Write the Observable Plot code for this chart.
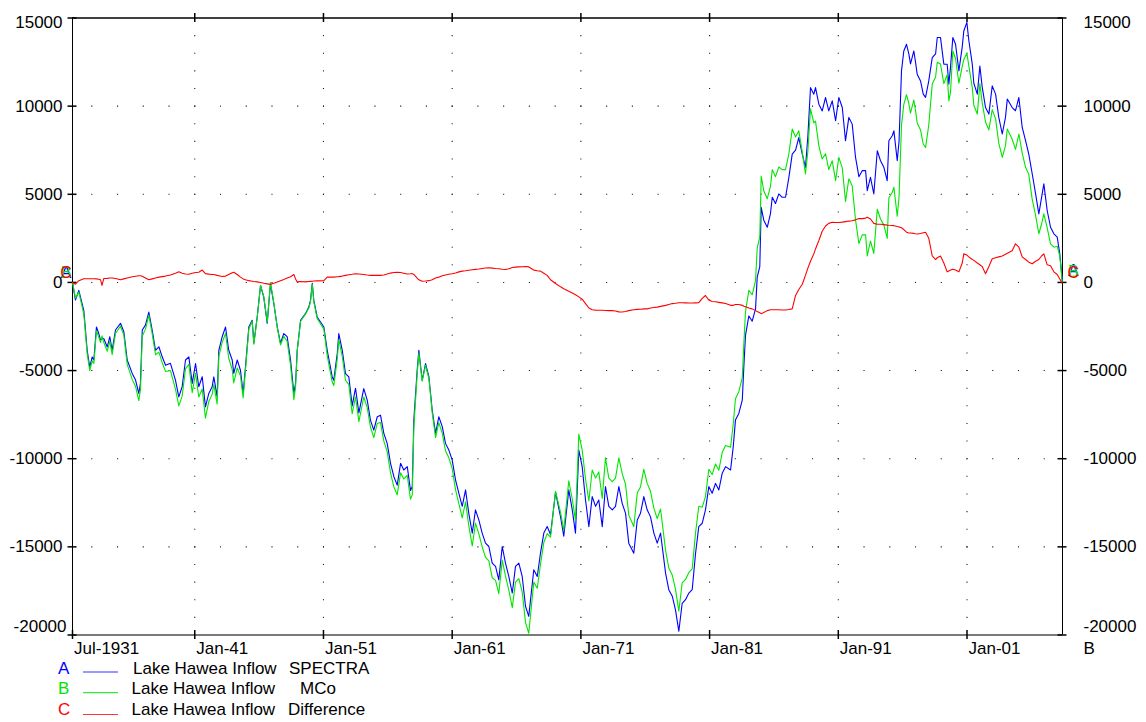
<!DOCTYPE html>
<html>
<head>
<meta charset="utf-8">
<script src="https://cdn.jsdelivr.net/npm/d3@7"></script>
<script src="https://cdn.jsdelivr.net/npm/@observablehq/plot@0.6"></script>
<style>
  body { margin: 0; background: #fff; }
  #wrap { position: relative; width: 1146px; height: 722px; background: #fff; }
</style>
</head>
<body>
<div id="wrap"></div>
<script>
// ---------- data ----------
const years = [
1931.50,1931.73,1931.99,1932.38,1932.64,1932.84,1933.03,1933.16,1933.36,1933.54,1933.68,1933.79,1933.93,1934.20,1934.40,1934.58,1934.84,1935.23,1935.49,1935.75,
1936.14,1936.40,1936.65,1936.78,1936.92,1937.17,1937.43,1937.69,1937.95,1938.21,1938.47,1938.73,1939.11,1939.50,1939.76,1940.02,1940.28,1940.54,1940.80,1941.06,
1941.31,1941.58,1941.83,1942.09,1942.35,1942.48,1942.74,1942.87,1943.13,1943.39,1943.64,1943.91,1944.03,1944.30,1944.55,1944.76,1944.94,1945.20,1945.46,1945.59,
1945.85,1946.11,1946.36,1946.63,1946.88,1947.14,1947.41,1947.66,1947.92,1948.18,1948.44,1948.70,1948.83,1948.96,1949.22,1949.60,1949.86,1949.99,1950.13,1950.25,
1950.51,1951.03,1951.29,1951.68,1951.80,1952.07,1952.19,1952.46,1952.71,1952.97,1953.23,1953.49,1953.75,1954.13,1954.40,1954.65,1954.91,1955.18,1955.43,1955.69,
1955.95,1956.21,1956.47,1956.73,1956.99,1957.24,1957.51,1957.76,1957.90,1958.02,1958.28,1958.41,1958.67,1958.93,1959.19,1959.45,1959.71,1959.96,1960.23,1960.48,
1960.74,1961.00,1961.26,1961.52,1961.78,1962.04,1962.29,1962.56,1962.81,1963.07,1963.33,1963.59,1963.85,1964.11,1964.37,1964.62,1964.89,1965.14,1965.40,1965.67,
1965.92,1966.18,1966.44,1966.70,1966.95,1967.34,1967.61,1967.86,1968.12,1968.38,1968.64,1969.03,1969.42,1969.67,1970.06,1970.33,1970.58,1970.84,1971.10,1971.36,
1971.62,1971.88,1972.14,1972.39,1972.66,1972.91,1973.17,1973.44,1973.69,1973.95,1974.21,1974.47,1974.72,1975.11,1975.38,1975.63,1975.89,1976.15,1976.41,1976.67,
1976.93,1977.19,1977.58,1977.83,1978.10,1978.35,1978.61,1978.87,1979.13,1979.39,1979.65,1979.91,1980.16,1980.43,1980.68,1980.94,1981.20,1981.46,1981.72,1981.98,
1982.24,1982.63,1982.84,1983.01,1983.27,1983.54,1983.66,1983.79,1984.05,1984.31,1984.57,1984.70,1984.90,1985.01,1985.21,1985.48,1985.73,1985.87,1986.12,1986.38,
1986.64,1986.90,1987.16,1987.42,1987.68,1987.93,1988.20,1988.45,1988.63,1988.84,1989.10,1989.23,1989.49,1989.75,1990.01,1990.26,1990.53,1990.79,1991.04,1991.31,
1991.56,1991.82,1992.08,1992.34,1992.60,1992.86,1993.12,1993.25,1993.50,1993.76,1994.03,1994.28,1994.54,1994.80,1994.93,1995.19,1995.32,1995.58,1995.72,1995.91,
1996.09,1996.30,1996.48,1996.61,1996.87,1997.00,1997.13,1997.39,1997.60,1997.78,1998.03,1998.30,1998.56,1998.69,1998.94,1999.20,1999.46,1999.59,1999.72,1999.90,
2000.11,2000.37,2000.63,2000.75,2000.99,2001.14,2001.41,2001.53,2001.80,2002.00,2002.18,2002.44,2002.70,2002.96,2003.22,2003.47,2003.74,2003.99,2004.13,2004.51,
2004.77,2005.03,2005.29,2005.55,2005.80,2006.07,2006.33,2006.58,2006.79,2006.97,2007.23,2007.49,2007.75,2008.01,2008.21,2008.40
];

const spectra = [
0,-1000,-450,-1600,-3850,-4800,-4230,-4400,-2530,-2900,-3270,-3200,-3180,-3660,-3080,-3850,-2700,-2320,-2800,-4400,
-5160,-5540,-6300,-5730,-2700,-2420,-1680,-2700,-3850,-3650,-4220,-4700,-4590,-5540,-6490,-5920,-4400,-4220,-5730,-4600,
-5920,-5350,-7060,-6300,-5920,-5360,-6490,-3850,-3080,-2530,-3850,-4400,-5160,-4400,-4980,-6300,-4790,-2530,-2150,-3440,
-1960,-170,-830,-2320,-75,-1190,-2530,-3440,-2900,-3080,-4400,-6300,-5730,-3850,-2150,-1770,-1400,-1020,-50,-1020,
-1960,-2530,-3850,-5360,-5550,-4040,-2900,-3850,-5170,-5360,-7000,-6000,-7400,-6020,-6680,-7810,-8380,-7620,-7530,-8560,
-9130,-10260,-11020,-11500,-10260,-10640,-10450,-11800,-11580,-7810,-4980,-3850,-5550,-4600,-5350,-7250,-8560,-7620,-8180,-9130,
-9510,-10070,-11200,-11960,-12700,-11770,-13100,-14220,-12900,-13470,-14220,-14790,-14980,-15920,-16110,-16870,-14980,-15920,-16680,-17620,
-16110,-15920,-16680,-18380,-18940,-16300,-16680,-15360,-14220,-13850,-14300,-11900,-13300,-14400,-11770,-12900,-14220,-9510,-10450,-12340,
-13850,-12150,-12700,-12340,-13850,-11580,-12700,-12900,-12700,-11580,-12530,-13100,-14790,-15360,-13470,-13100,-12150,-12900,-13300,-14220,
-14790,-14220,-16490,-17430,-17800,-18570,-19790,-18200,-18000,-17620,-17430,-15360,-13850,-13660,-12900,-11580,-11960,-11400,-11770,-10830,
-10450,-10640,-9300,-7810,-7430,-6680,-4790,-3000,-1900,-2200,-1500,300,900,4260,3530,3130,3910,4830,4480,5020,
4830,4830,5960,7280,7500,8220,7280,6530,8220,11050,10680,11050,10110,9730,10490,9730,10300,9170,10490,9920,
8040,9360,8980,7090,6000,6340,6340,5210,5960,5020,7470,6900,6530,5770,8040,8320,8600,6900,8000,12000,
13130,13510,12960,12400,13130,12500,11810,11430,10680,10500,11430,12750,12960,13890,13890,12380,12380,11240,12230,13890,
13510,12000,13360,14260,14750,13740,12380,11300,10680,12280,11090,9920,9550,11150,10680,9360,8420,9360,10400,9920,
9740,10490,8790,8040,7280,6150,5020,3890,4800,5590,4080,3130,2760,2570,1620,100
];

const mco = [
0,-900,-550,-1800,-4050,-5000,-4450,-4600,-2750,-3100,-3400,-3030,-3400,-3900,-3330,-4100,-2900,-2470,-3000,-4650,
-5500,-5900,-6700,-6100,-3050,-2650,-1850,-2900,-4100,-3950,-4550,-5050,-5000,-6050,-7000,-6450,-4900,-4650,-6250,-5150,
-6500,-6050,-7700,-6750,-6350,-5800,-6900,-4200,-3400,-2900,-4300,-4950,-5700,-4850,-5300,-6550,-4950,-2650,-2200,-3500,
-2000,-170,-800,-2250,0,-1150,-2550,-3550,-3050,-3350,-4700,-6650,-5950,-3900,-2200,-1800,-1450,-1100,-100,-1100,
-2050,-2650,-4150,-5650,-5850,-4350,-3250,-4200,-5550,-5800,-7450,-6500,-7900,-6500,-7100,-8200,-8800,-8000,-7950,-9000,
-9600,-10800,-11600,-12050,-10800,-11150,-10950,-12300,-12050,-8250,-5200,-4000,-5600,-4700,-5450,-7400,-8800,-7950,-8550,-9550,
-9950,-10550,-11750,-12550,-13350,-12450,-13800,-14950,-13650,-14250,-15000,-15600,-15800,-16750,-16900,-17650,-15750,-16650,-17450,-18450,
-17000,-16800,-17550,-19300,-19900,-17000,-17350,-16000,-14750,-14250,-14450,-11850,-13050,-14050,-11250,-12300,-13500,-8600,-9500,-11150,
-12400,-10640,-11100,-10750,-12250,-9950,-11100,-11300,-11100,-9950,-10850,-11450,-13200,-13850,-11950,-11600,-10600,-11400,-11850,-12800,
-13400,-12850,-15200,-16200,-16600,-17400,-18650,-17050,-16850,-16450,-16250,-14200,-12700,-12750,-12150,-10600,-10900,-10300,-10650,-9650,
-9250,-9350,-8000,-6600,-6200,-5400,-3500,-1650,-450,-700,100,1950,2600,6030,5200,4750,5450,6400,6000,6550,
6400,6400,7300,8700,8250,8600,7400,6150,7400,9850,9050,9150,7750,7000,7300,6400,6900,5770,7090,6500,
4600,5880,5480,3540,2200,2700,2700,1500,2350,1650,4150,3600,3250,2500,4800,5100,5400,3750,4850,8900,
10100,10650,10150,9600,10350,9750,9050,8650,7850,7650,8930,11250,11650,12490,12390,11280,11780,10300,10800,13130,
12700,11300,12250,12640,13000,12300,11050,10050,9550,11280,10200,9100,8650,9800,9280,7900,7090,7760,8700,8120,
7550,8420,7340,6530,6130,4700,3800,2760,3300,3890,3100,2190,2000,2050,1500,50
];

const difference = [
0,-100,100,210,210,210,210,210,200,180,150,-170,220,230,250,250,220,150,200,250,
320,350,380,380,350,250,150,200,250,300,330,360,420,520,600,520,480,460,520,560,
580,700,500,470,450,450,400,380,340,360,450,550,580,450,300,200,150,100,70,50,
30,0,-50,-80,-110,-50,30,100,170,250,320,450,200,30,50,30,50,60,70,80,
90,100,300,300,300,320,330,360,400,440,460,490,480,450,420,400,400,400,400,420,
480,530,560,580,560,520,480,490,500,450,250,150,70,80,100,150,250,300,380,420,
460,490,540,600,640,660,690,720,740,760,790,820,830,810,790,780,750,730,780,850,
870,880,890,900,880,700,660,640,520,400,150,-60,-250,-360,-500,-600,-700,-820,-950,-1200,
-1450,-1550,-1570,-1580,-1580,-1590,-1600,-1600,-1620,-1670,-1680,-1650,-1600,-1550,-1530,-1520,-1500,-1500,-1450,-1420,
-1400,-1360,-1300,-1250,-1200,-1180,-1150,-1150,-1160,-1170,-1170,-1160,-1150,-900,-740,-1000,-1080,-1100,-1130,-1160,
-1200,-1300,-1300,-1250,-1250,-1300,-1350,-1380,-1450,-1500,-1600,-1650,-1720,-1770,-1700,-1600,-1550,-1550,-1550,-1550,
-1560,-1560,-1540,-1500,-740,-400,-100,400,800,1200,1620,1900,2380,2900,3200,3350,3410,3400,3400,3420,
3450,3480,3500,3550,3630,3620,3650,3700,3600,3350,3300,3300,3280,3250,3240,3230,3220,3170,3150,3100,
3000,2850,2800,2800,2780,2760,2750,2780,2820,2850,2500,1500,1300,1400,1500,1100,600,650,700,750,
700,600,1100,1620,1550,1450,1300,1250,1100,1000,900,490,900,1340,1400,1450,1500,1600,1650,1800,
2190,2000,1450,1300,1150,1060,1200,1300,1500,1620,1000,950,600,450,200,-50
];

const seriesKeys = ["A", "B", "C"];
const seriesSource = "Lake Hawea Inflow";
const seriesNames = ["SPECTRA", "MCo", "Difference"];

const xTickValues = [1931.5, 1941, 1951, 1961, 1971, 1981, 1991, 2001];
const xTickLabels = ["Jul-1931", "Jan-41", "Jan-51", "Jan-61", "Jan-71", "Jan-81", "Jan-91", "Jan-01"];
const yTickValues = [-20000, -15000, -10000, -5000, 0, 5000, 10000, 15000];
const rightAxisName = "B";

// ---------- layout / style ----------
const X0 = 1931.5, X1 = 2008.42;
const Y0 = -20000, Y1 = 15000;
const FONT = '"Liberation Sans", Arial, Helvetica, sans-serif';
const colors = ["#0000ff", "#00e600", "#ff0000"];
const values = [spectra, mco, difference];

const innerY = yTickValues.filter(v => v > Y0 && v < Y1);
const gridV = d3.cross(xTickValues.slice(1), d3.range(Y0 + 1000, Y1, 1000));
const gridH = d3.cross(d3.range(1933, X1, 2), innerY);
const tx = 0.35;   // half tick length in years (about 4.5px)
const ty = 255;    // half tick length in value units (about 4.5px)
const last = years.length - 1;

const lineMarks = values.map((v, k) =>
  Plot.line(v, {x: years, y: v, stroke: colors[k], strokeWidth: 1.1, curve: "linear"}));

const startLetters = values.map((v, k) =>
  Plot.text([seriesKeys[k]], {x: [years[0]], y: [v[0]], text: d => d, fill: colors[k],
    dx: -6.5, dy: -10, fontSize: 16}));
const endLetters = values.map((v, k) =>
  Plot.text([seriesKeys[k]], {x: [years[last]], y: [v[last]], text: d => d, fill: colors[k],
    dx: 11, dy: -10, fontSize: 16}));

const chart = Plot.plot({
  width: 1146,
  height: 662,
  marginLeft: 72,
  marginRight: 84,
  marginTop: 17.5,
  marginBottom: 27.5,
  x: {domain: [X0, X1], axis: null},
  y: {domain: [Y0, Y1], axis: null},
  style: {fontFamily: FONT, fontSize: "17px", background: "#fff", color: "#000", overflow: "visible"},
  marks: [
    // dotted grid
    Plot.dot(gridV, {x: d => d[0], y: d => d[1], r: 0.6, fill: "#111", symbol: "square"}),
    Plot.dot(gridH, {x: d => d[0], y: d => d[1], r: 0.6, fill: "#111", symbol: "square"}),
    // frame
    Plot.ruleY([Y1], {stroke: "#000", strokeWidth: 1.3}),
    Plot.ruleY([Y0], {stroke: "#7a7a7a", strokeWidth: 2}),
    Plot.ruleX([X0, X1], {stroke: "#000", strokeWidth: 1}),
    // crossing ticks
    Plot.ruleY(yTickValues, {x1: X0 - tx, x2: X0 + tx, stroke: "#000", strokeWidth: 1.5}),
    Plot.ruleY(yTickValues, {x1: X1 - tx, x2: X1 + tx, stroke: "#000", strokeWidth: 1.5}),
    Plot.ruleX(xTickValues.slice(1), {y1: Y1 - ty, y2: Y1 + ty, stroke: "#000", strokeWidth: 1.5}),
    Plot.ruleX(xTickValues, {y1: Y0 - ty, y2: Y0 + ty, stroke: "#000", strokeWidth: 1.5}),
    // series
    ...lineMarks,
    ...startLetters,
    ...endLetters,
    // left labels
    Plot.text(innerY, {x: X0, y: d => d, text: d => String(d), textAnchor: "end", dx: -10, fontSize: 17}),
    Plot.text([Y1], {x: X0, y: d => d, text: d => String(d), textAnchor: "end", dx: -10, dy: 5, fontSize: 17}),
    Plot.text([Y0], {x: X0, y: d => d, text: d => String(d), textAnchor: "end", dx: -6, dy: -8, fontSize: 17}),
    // right labels
    Plot.text(innerY, {x: X1, y: d => d, text: d => String(d), textAnchor: "start", dx: 21, fontSize: 17}),
    Plot.text([Y1], {x: X1, y: d => d, text: d => String(d), textAnchor: "start", dx: 21, dy: 5, fontSize: 17}),
    Plot.text([Y0], {x: X1, y: d => d, text: d => String(d), textAnchor: "start", dx: 21, dy: -8, fontSize: 17}),
    // x labels
    Plot.text(xTickValues, {x: d => d, y: Y0, text: (d, i) => xTickLabels[i], textAnchor: "start", dx: 1.5, dy: 14, fontSize: 17}),
    Plot.text([rightAxisName], {x: X1, y: Y0, text: d => d, textAnchor: "start", dx: 21, dy: 14, fontSize: 17})
  ]
});

const wrap = document.getElementById("wrap");
chart.style.position = "absolute";
chart.style.left = "0px";
chart.style.top = "0px";
wrap.appendChild(chart);

// ---------- legend (below the plot) ----------
const leg = d3.create("svg")
  .attr("width", 1146).attr("height", 67)
  .style("position", "absolute").style("left", "0px").style("top", "655px")
  .style("overflow", "visible")
  .style("font-family", FONT).style("font-size", "17px");

const baseY = [19, 39.3, 60];
const swY = [17, 37.7, 59.5];
const srcX = [133, 131.5, 131.5];
const nameX = [289, 300, 288];

seriesKeys.forEach((key, k) => {
  leg.append("text").attr("x", 58).attr("y", baseY[k]).attr("fill", colors[k]).text(key);
  leg.append("line").attr("x1", 83).attr("x2", 118).attr("y1", swY[k]).attr("y2", swY[k])
    .attr("stroke", colors[k]).attr("stroke-width", 1.2).attr("stroke-opacity", 0.8);
  leg.append("text").attr("x", srcX[k]).attr("y", baseY[k]).attr("fill", "#000").text(seriesSource);
  leg.append("text").attr("x", nameX[k]).attr("y", baseY[k]).attr("fill", "#000").text(seriesNames[k]);
});
wrap.appendChild(leg.node());
</script>
</body>
</html>
